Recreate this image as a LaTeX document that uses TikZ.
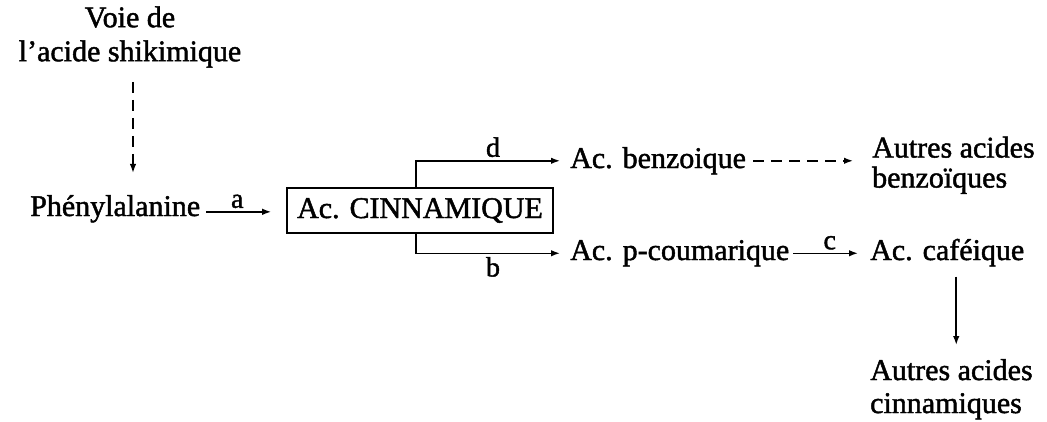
\documentclass[tikz,border=0pt]{standalone}
\usepackage{fontspec}
\setmainfont{Liberation Serif}[FakeBold=1.5]
\usetikzlibrary{arrows.meta,calc}
\begin{document}
\begin{tikzpicture}[x=1pt,y=-1pt,
  every node/.style={font=\fontsize{30}{30}\selectfont,inner sep=0pt},
  conn/.style={line width=1.5pt,-{Latex[length=9pt,width=6.5pt]}},
  dconn/.style={conn,dash pattern=on 11pt off 7pt},
  tag/.style={inner sep=3pt,font=\fontsize{28}{30}\selectfont}]
\useasboundingbox (0,0) rectangle (1047,421);

% pathway nodes
\node[align=center,font=\fontsize{30}{34}\selectfont] (shik) at (130,37) {Voie de\\l'acide shikimique};
\node[anchor=base west] (phen) at (30,216) {Phénylalanine};
\node[draw,line width=1.6pt,minimum width=266pt,minimum height=45pt,inner sep=2pt] (cinn) at (420,210.5) {Ac. CINNAMIQUE};
\node[anchor=base west] (benz) at (570,168) {Ac. benzoique};
\node[align=left,anchor=north west] (autb) at (872,136.5) {Autres acides\\benzoïques};
\node[anchor=base west] (pcou) at (570,260) {Ac. p-coumarique};
\node[anchor=base west] (caf) at (870,260) {Ac. caféique};
\node[align=left,anchor=north west,font=\fontsize{30}{33}\selectfont] (autc) at (870,359) {Autres acides\\cinnamiques};

% connectors
\draw[dconn,shorten >=22pt] ([xshift=3pt,yshift=-14pt]shik.south) -- ([xshift=3pt]shik.south |- phen.north);
\draw[conn,shorten <=6pt,shorten >=15pt] ([yshift=-3pt]phen.east) -- node[tag,above,xshift=-6pt] {a} ([yshift=-3pt]phen.east -| cinn.west);
\draw[conn,shorten >=10pt] ([xshift=-4pt]cinn.north) |- node[tag,above,pos=0.75] {d} (benz.west);
\draw[conn,shorten >=10pt] ([xshift=-4pt]cinn.south) |- node[tag,below,pos=0.75] {b} (pcou.west);
\draw[dconn,shorten <=7pt,shorten >=19pt] (benz.east) -- (benz.east -| autb.west);
\draw[conn,shorten <=4pt,shorten >=12pt] (pcou.east) -- node[tag,above] {c} (pcou.east -| caf.west);
\draw[conn,shorten >=14pt] ([xshift=9pt,yshift=-10pt]caf.south) -- ([xshift=9pt]caf.south |- autc.north);
\end{tikzpicture}
\end{document}
